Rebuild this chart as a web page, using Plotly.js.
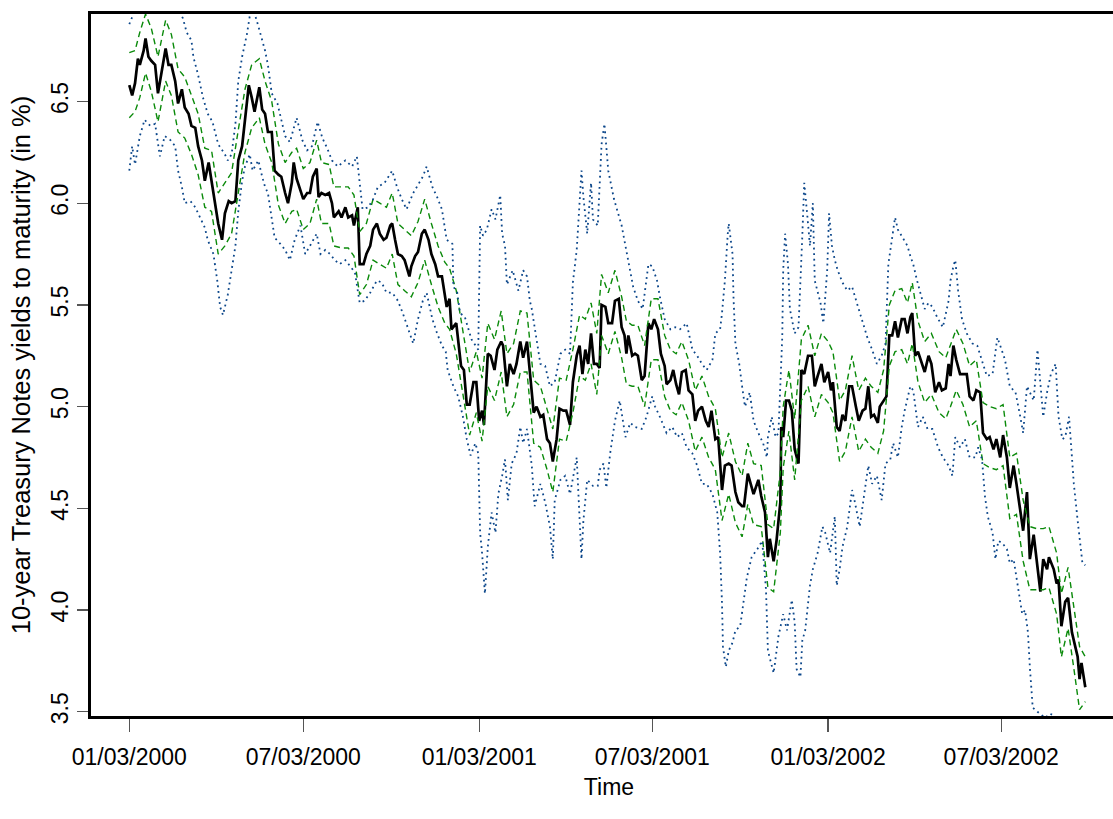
<!DOCTYPE html>
<html>
<head>
<meta charset="utf-8">
<script src="https://cdn.plot.ly/plotly-3.0.1.min.js"></script>
<style>
html,body{margin:0;padding:0;overflow:hidden;background:#fff;}
#chart{width:1127px;height:819px;}
</style>
</head>
<body>
<div id="chart"></div>
<script>
// ---------- DATA ----------
const startDate = '2000-01-03';           // day 0 of the series
const xTickDates  = ['2000-01-03','2000-07-03','2001-01-03','2001-07-03','2002-01-03','2002-07-03'];
const xTickLabels = ['01/03/2000','07/03/2000','01/03/2001','07/03/2001','01/03/2002','07/03/2002'];
const yTickValues = [3.5,4.0,4.5,5.0,5.5,6.0,6.5];
const yTickLabels = ['3.5','4.0','4.5','5.0','5.5','6.0','6.5'];

// observed 10-year yield (days since start, value in %)
const yieldDays = [
0,3,6,9,11,15,17,20,23,27, 30,34,38,41,44,48,51,55,58,62,
65,69,72,76,79,83,86,90,93,97, 100,104,107,111,114,118,121,125,128,131,
136,139,142,145,149,152,156,159,163,166, 170,172,175,179,182,186,189,192,196,198,
201,205,209,212,214,219,222,226,229,233, 235,239,241,245,248,252,255,259,262,266,
269,273,275,278,281,285,288,293,295,299, 302,306,309,313,316,320,323,327,330,332,
335,337,342,347,350,353,356,360,363,366, 369,371,375,378,382,385,389,391,395,398,
402,405,409,412,416,419,423,426,430,433, 437,440,443,447,450,454,457,461,464,468,
471,474,477,480,483,486,489,492,494,498, 501,505,508,512,515,518,520,522,526,529,
532,536,539,543,546,549,553,556,560,562, 566,569,572,575,578,582,585,589,592,595,
599,603,606,609,613,616,620,623,627,630, 634,637,641,643,647,650,653,658,661,665,
668,670,674,677,681,682,684,687,690,693, 696,700,703,706,710,714,717,720,724,727,
731,734,736,740,743,746,749,753,756,760, 763,767,770,773,776,779,783,785,789,792,
795,798,801,804,808,811,814,817,819,822, 825,829,832,836,839,843,847,850,854,857,
859,862,865,869,872,876,879,883,886,890, 893,897,900,904,907,911,914,918,921,925,
928,932,935,939,942,946,949,953,956,960, 962,967,970,972,975,979,982,986,989,992,
994,996,1000];
const yieldValues = [
6.58,6.53,6.59,6.71,6.68,6.75,6.81,6.72,6.70,6.68, 6.54,6.65,6.76,6.68,6.68,6.60,6.49,6.56,6.47,6.44,
6.38,6.37,6.28,6.21,6.11,6.20,6.11,6.01,5.90,5.82, 5.95,6.01,6.00,6.01,6.21,6.28,6.41,6.58,6.52,6.45,
6.57,6.46,6.44,6.35,6.35,6.16,6.14,6.13,6.05,6.00, 6.10,6.20,6.12,6.06,6.02,6.05,6.05,6.13,6.17,6.03,
6.05,6.04,6.05,6.00,5.93,5.96,5.93,5.98,5.93,5.94, 5.89,5.98,5.70,5.70,5.75,5.79,5.87,5.90,5.85,5.82,
5.83,5.89,5.90,5.82,5.75,5.74,5.72,5.64,5.69,5.74, 5.76,5.85,5.87,5.82,5.75,5.70,5.64,5.64,5.56,5.49,
5.53,5.38,5.41,5.20,5.18,5.01,5.01,5.12,5.12,4.93, 4.98,4.91,5.26,5.25,5.18,5.28,5.32,5.30,5.10,5.21,
5.16,5.21,5.32,5.24,5.32,5.18,4.97,5.00,4.95,4.96, 4.84,4.82,4.73,4.84,4.99,4.98,4.98,4.91,5.12,5.25,
5.30,5.16,5.28,5.21,5.36,5.21,5.21,5.19,5.50,5.49, 5.41,5.41,5.52,5.53,5.39,5.35,5.26,5.35,5.25,5.26,
5.25,5.13,5.15,5.41,5.38,5.43,5.38,5.26,5.20,5.11, 5.13,5.18,5.11,5.06,5.17,5.18,5.08,5.06,4.93,4.98,
5.00,4.93,4.90,4.98,4.84,4.85,4.59,4.71,4.72,4.71, 4.58,4.53,4.51,4.51,4.67,4.62,4.57,4.64,4.56,4.48,
4.26,4.35,4.24,4.34,4.53,4.90,4.85,5.03,5.03,4.98, 4.79,4.72,5.18,5.16,5.25,5.25,5.10,5.15,5.21,5.12,
5.17,5.08,5.12,4.90,4.88,4.96,4.93,5.10,5.10,5.00, 4.93,4.98,4.99,5.10,4.95,4.96,4.92,5.00,5.03,5.05,
5.35,5.35,5.42,5.34,5.43,5.43,5.36,5.44,5.46,5.25, 5.27,5.21,5.17,5.25,5.21,5.07,5.12,5.08,5.09,5.21,
5.15,5.30,5.23,5.16,5.16,5.16,5.05,5.03,5.08,5.07, 4.87,4.84,4.85,4.79,4.84,4.75,4.86,4.75,4.60,4.71,
4.62,4.48,4.39,4.58,4.25,4.37,4.25,4.09,4.25,4.20, 4.26,4.20,4.13,4.15,3.92,4.04,4.06,3.89,3.83,3.77,
3.66,3.74,3.62];

// narrow band (green dashed), read at every second observation day
const narrowUpper = [
6.74,6.75,6.84,6.93,6.86,6.72,6.90,6.83,6.66,6.62,
6.53,6.44,6.27,6.26,6.05,6.10,6.15,6.36,6.56,6.68,
6.71,6.60,6.50,6.29,6.20,6.25,6.27,6.17,6.20,6.31,
6.20,6.19,6.08,6.08,6.08,6.04,5.86,5.90,6.02,6.00,
5.98,6.05,5.90,5.87,5.84,5.91,6.02,5.90,5.79,5.71,
5.68,5.57,5.34,5.17,5.27,5.14,5.41,5.33,5.47,5.26,
5.31,5.47,5.46,5.13,5.10,4.99,4.89,5.14,5.13,5.28,
5.45,5.43,5.51,5.36,5.65,5.56,5.67,5.54,5.42,5.40,
5.40,5.30,5.53,5.53,5.35,5.28,5.26,5.32,5.23,5.08,
5.15,5.05,4.99,4.75,4.87,4.73,4.66,4.82,4.72,4.71,
4.42,4.40,4.68,5.00,5.18,4.94,5.33,5.40,5.25,5.36,
5.32,5.27,5.03,5.08,5.25,5.08,5.14,5.10,5.07,5.18,
5.50,5.57,5.58,5.51,5.61,5.42,5.32,5.36,5.27,5.24,
5.30,5.38,5.31,5.20,5.23,5.02,5.00,4.99,5.01,4.75,
4.77,4.54,4.41,4.40,4.40,4.41,4.28,4.08,4.21,3.98,
3.82,3.77];
const narrowLower = [
6.42,6.45,6.52,6.64,6.55,6.40,6.60,6.53,6.35,6.32,
6.24,6.14,5.98,5.96,5.75,5.79,5.85,6.05,6.25,6.37,
6.42,6.29,6.20,5.99,5.90,5.96,5.97,5.87,5.90,6.02,
5.90,5.90,5.79,5.78,5.78,5.74,5.55,5.60,5.72,5.70,
5.68,5.75,5.60,5.57,5.54,5.61,5.72,5.60,5.49,5.41,
5.38,5.26,5.03,4.86,4.97,4.83,5.10,5.03,5.17,4.95,
5.01,5.17,5.17,4.82,4.80,4.69,4.58,4.84,4.83,4.97,
5.15,5.13,5.21,5.06,5.35,5.26,5.37,5.24,5.11,5.10,
5.10,5.00,5.23,5.23,5.05,4.98,4.96,5.02,4.93,4.78,
4.85,4.75,4.69,4.44,4.57,4.43,4.36,4.52,4.42,4.41,
4.11,4.09,4.38,4.70,4.88,4.64,5.03,5.10,4.95,5.06,
5.02,4.97,4.73,4.78,4.95,4.78,4.84,4.80,4.77,4.88,
5.20,5.27,5.28,5.21,5.31,5.12,5.02,5.06,4.97,4.94,
5.00,5.08,5.01,4.90,4.93,4.72,4.70,4.69,4.71,4.45,
4.47,4.24,4.10,4.10,4.10,4.11,3.98,3.77,3.91,3.68,
3.51,3.55];

// wide band (blue dotted), upper edge
const wideUpperDays = [
0,6,14,27,39,51,56,60,65,67, 72,77,82,87,93,100,103,107,111,114,
118,123,126,130,135,142,145,149,155,160, 163,168,175,181,186,191,197,202,207,212,
218,226,233,238,241,244,250,255,260,267, 275,280,285,290,297,302,307,311,317,322,
327,332,338,339,343,346,351,358,365,367, 370,374,379,383,386,388,390,393,395,398,
401,407,412,416,419,421,424,430,435,440, 445,451,456,461,464,468,473,475,479,483,
485,490,494,497,501,507,515,519,522,527, 532,537,543,547,552,555,560,566,571,576,
583,589,594,599,604,610,613,618,620,623, 626,627,631,632,634,638,641,644,649,653,
658,663,667,668,672,676,679,683,684,686, 689,691,696,700,704,706,709,712,715,717,
723,726,730,732,735,738,741,746,751,756, 761,767,772,777,782,787,791,794,798,801,
804,808,814,817,820,824,827,832,836,840, 845,851,857,859,862,864,867,871,876,882,
887,892,897,903,908,911,916,921,927,932, 935,939,942,946,950,953,956,960,964,969,
972,976,979,983,986,988,992,995,997,1000];
const wideUpperValues = [
6.88,6.95,6.96,6.97,6.96,6.95,6.91,6.84,6.80,6.72, 6.63,6.52,6.44,6.40,6.29,6.24,6.21,6.24,6.39,6.60,
6.72,6.83,6.92,6.95,6.87,6.75,6.68,6.54,6.49,6.39, 6.33,6.30,6.42,6.31,6.26,6.28,6.40,6.32,6.27,6.21,
6.18,6.21,6.18,6.23,6.10,5.97,5.98,6.02,6.08,6.10, 6.16,6.08,6.02,5.97,6.05,6.09,6.13,6.18,6.08,6.03,
5.97,5.82,5.80,5.59,5.56,5.46,5.44,5.33,5.28,5.89, 5.84,5.87,5.97,5.92,6.00,6.04,5.85,5.79,5.60,5.64,
5.67,5.57,5.67,5.64,5.52,5.48,5.39,5.21,5.20,5.10, 5.12,5.26,5.28,5.26,5.61,5.77,6.16,6.03,5.85,6.10,
5.92,5.89,6.29,6.39,6.16,6.02,5.89,5.79,5.70,5.59, 5.52,5.48,5.70,5.69,5.62,5.54,5.43,5.38,5.39,5.38,
5.41,5.28,5.25,5.21,5.18,5.23,5.36,5.38,5.46,5.62, 5.85,5.90,5.75,5.54,5.31,5.21,5.10,5.00,5.07,4.93,
4.87,4.82,4.75,4.85,4.95,4.85,4.87,5.34,5.67,5.85, 5.70,5.48,5.36,5.39,5.84,6.10,5.95,5.79,6.00,5.62,
5.51,5.41,5.67,5.95,5.79,5.72,5.67,5.61,5.57,5.59, 5.51,5.41,5.34,5.28,5.21,5.25,5.31,5.70,5.84,5.93,
5.87,5.84,5.79,5.74,5.70,5.62,5.57,5.48,5.51,5.49, 5.44,5.39,5.52,5.62,5.69,5.72,5.57,5.43,5.36,5.31,
5.30,5.23,5.15,5.16,5.34,5.30,5.23,5.10,5.07,4.95, 4.87,5.10,5.07,5.03,5.28,5.13,4.95,5.07,5.16,5.21,
4.95,4.84,4.85,4.95,4.74,4.62,4.44,4.31,4.23,4.22];

// wide band (blue dotted), lower edge
const wideLowerDays = [
0,3,6,11,16,22,27,32,37,43, 48,51,55,58,64,69,74,79,82,88,
92,95,98,103,107,111,114,118,121,126, 129,135,139,142,145,149,152,158,163,168,
173,179,184,189,196,200,205,210,215,220, 226,231,236,241,246,252,259,264,269,275,
281,286,291,297,302,307,311,317,322,327, 331,333,339,344,349,353,357,362,365,367,
369,372,375,379,383,386,390,393,396,400, 405,409,412,416,421,424,430,435,440,443,
445,451,456,461,468,473,475,479,485,490, 492,496,499,503,508,513,519,524,529,536,
541,547,550,555,562,568,573,578,583,589, 594,599,604,610,615,618,620,621,624,627,
631,634,639,642,646,651,657,662,666,668, 674,679,684,688,693,696,698,702,704,707,
712,715,720,725,728,733,738,740,743,746, 751,756,759,764,769,773,777,782,787,791,
796,799,804,808,811,817,820,825,830,835, 840,846,851,857,861,864,869,874,879,885,
888,892,895,898,903,906,909,913,918,921, 925,929,934,937,940,942,944,945,950,953,
958,963,968,974,981,989,1000];
const wideLowerValues = [
6.16,6.28,6.19,6.33,6.41,6.38,6.39,6.23,6.33,6.31, 6.28,6.16,6.08,6.00,6.01,5.98,5.93,5.88,5.82,5.75,
5.62,5.49,5.45,5.55,5.67,5.79,5.96,6.11,6.18,6.24, 6.16,6.21,6.13,6.08,6.05,5.91,5.83,5.80,5.77,5.72,
5.82,5.89,5.75,5.79,5.85,5.75,5.77,5.75,5.72,5.70, 5.72,5.69,5.66,5.51,5.52,5.56,5.62,5.61,5.56,5.56,
5.52,5.46,5.39,5.31,5.43,5.52,5.56,5.43,5.36,5.30, 5.27,5.18,5.10,5.05,4.95,4.84,4.76,4.82,4.77,4.38,
4.28,4.08,4.31,4.48,4.38,4.57,4.66,4.74,4.54,4.72, 4.77,4.90,4.82,4.89,4.71,4.51,4.62,4.53,4.41,4.25,
4.54,4.64,4.66,4.57,4.75,4.25,4.44,4.64,4.61,4.61, 4.69,4.72,4.60,4.77,4.93,5.03,4.85,4.92,4.90,4.89,
4.95,5.05,5.00,4.95,4.87,4.90,4.85,4.87,4.80,4.77, 4.71,4.62,4.62,4.57,4.48,4.28,4.03,3.82,3.72,3.80,
3.84,3.90,3.92,4.02,4.16,4.26,4.30,4.34,4.10,3.80, 3.69,3.87,3.98,3.90,4.05,3.94,3.71,3.67,3.85,3.90,
4.12,4.20,4.28,4.41,4.38,4.28,4.46,4.12,4.20,4.31, 4.41,4.59,4.53,4.41,4.59,4.71,4.62,4.66,4.54,4.72,
4.74,4.82,4.75,4.90,4.98,5.10,5.08,4.90,4.95,4.89, 4.89,4.80,4.75,4.71,4.66,4.85,4.80,4.84,4.75,4.75,
4.80,4.74,4.56,4.46,4.38,4.25,4.34,4.33,4.30,4.23, 4.25,4.13,3.98,4.00,3.89,3.72,3.59,3.52,3.50,3.49,
3.47,3.49,3.48,3.42,3.35,3.30,3.22];

// ---------- BUILD ----------
const DAY = 86400000;
const startMs = Date.parse(startDate + 'T00:00:00Z');
const toDate = d => new Date(startMs + d * DAY).toISOString().slice(0, 10);
const fmt = ms => new Date(ms).toISOString().replace('T', ' ').replace('Z', '');
const narrowDays = yieldDays.filter((_, i) => i % 2 === 0);

function series(days, vals) {
  const n = Math.min(days.length, vals.length);
  return { x: days.slice(0, n).map(toDate), y: vals.slice(0, n) };
}

const W = 1127, H = 819, L = 91, T = 14, B = 103, R = 0;
const pxPerDay = 0.956;
const leftDays = (129.3 - L) / pxPerDay;
const spanDays = (W - L - R) / pxPerDay;
const xRange = [fmt(startMs - leftDays * DAY), fmt(startMs + (spanDays - leftDays) * DAY)];

const obs = series(yieldDays, yieldValues);
const nu = series(narrowDays, narrowUpper);
const nl = series(narrowDays, narrowLower);
const wu = series(wideUpperDays, wideUpperValues);
const wl = series(wideLowerDays, wideLowerValues);

const green = '#0a8a0a', blue = '#0b468a';
const traces = [
  { x: obs.x, y: obs.y, mode: 'lines', line: { color: '#000', width: 2.7 }, name: 'yield' },
  { x: nu.x, y: nu.y, mode: 'lines', line: { color: green, width: 1.4, dash: '6px,4px' }, name: 'upper' },
  { x: nl.x, y: nl.y, mode: 'lines', line: { color: green, width: 1.4, dash: '6px,4px' }, name: 'lower' },
  { x: wu.x, y: wu.y, mode: 'lines', line: { color: blue, width: 1.8, dash: '1.8px,3.8px' }, name: 'upper wide' },
  { x: wl.x, y: wl.y, mode: 'lines', line: { color: blue, width: 1.8, dash: '1.8px,3.8px' }, name: 'lower wide' }
];

const font = 'Liberation Sans, Arial, Helvetica, sans-serif';
const layout = {
  width: W, height: H,
  margin: { l: L, r: R, t: T, b: B, pad: 0 },
  paper_bgcolor: '#fff', plot_bgcolor: '#fff',
  showlegend: false,
  font: { family: font, size: 23, color: '#000' },
  xaxis: {
    type: 'date', range: xRange,
    tickmode: 'array', tickvals: xTickDates, ticktext: xTickLabels,
    ticks: 'outside', ticklen: 13, tickwidth: 1.3, tickcolor: '#555',
    ticklabelstandoff: 5,
    showline: true, linewidth: 3, linecolor: '#000', mirror: true,
    showgrid: false, zeroline: false,
    tickfont: { family: font, size: 23, color: '#000' },
    title: { text: 'Time', font: { family: font, size: 23, color: '#000' }, standoff: 11 }
  },
  yaxis: {
    range: [3.479, 6.930],
    tickmode: 'array', tickvals: yTickValues, ticktext: yTickLabels,
    tickangle: -90,
    ticks: 'outside', ticklen: 11, tickwidth: 1.3, tickcolor: '#555',
    showline: true, linewidth: 3, linecolor: '#000', mirror: true,
    showgrid: false, zeroline: false,
    tickfont: { family: font, size: 23, color: '#000' },
    title: { text: '10-year Treasury Notes yields to maturity (in %)', font: { family: font, size: 25.5, color: '#000' }, standoff: 9 }
  }
};

Plotly.newPlot('chart', traces, layout, { staticPlot: true, displayModeBar: false });
</script>
</body>
</html>
